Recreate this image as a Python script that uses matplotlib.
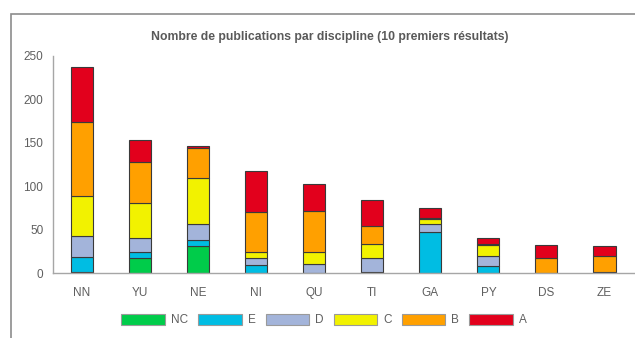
import numpy as np
import matplotlib
matplotlib.use("Agg")
import matplotlib.pyplot as plt
from matplotlib.patches import Rectangle

plt.rcParams['font.family'] = ['Liberation Sans', 'DejaVu Sans']

disciplines = ["NN", "YU", "NE", "NI", "QU", "TI", "GA", "PY", "DS", "ZE"]
ranks = ["NC", "E", "D", "C", "B", "A"]

nc = [1, 18, 31, 0, 0, 2, 0, 0, 0, 2]
e = [18, 6, 7, 9, 0, 0, 47, 8, 0, 0]
d = [24, 17, 19, 9, 11, 16, 10, 12, 0, 0]
c = [46, 40, 53, 7, 14, 16, 5, 13, 0, 0]
b = [85, 47, 34, 46, 47, 20, 2, 1, 18, 18]
a = [63, 25, 2, 47, 31, 30, 11, 7, 15, 11]

colors = ["#00CC4A", "#00BDE3", "#A3B4DA", "#F2F200", "#FFA000", "#E2001C"]

fig = plt.figure(figsize=(6.35, 3.38), dpi=100)
ax = fig.add_axes([53 / 635, 1 - 273.3 / 338, 580.5 / 635, 217.6 / 338])

x = np.arange(len(disciplines))
bottom = np.zeros(len(disciplines))
for name, vals, col in zip(ranks, [nc, e, d, c, b, a], colors):
    ax.bar(x, vals, 0.38, bottom=bottom, color=col, edgecolor="#3a3a3a",
           linewidth=0.8, label=name)
    bottom += np.array(vals)

ax.set_xlim(-0.5, 9.5)
ax.set_ylim(0, 250)
ax.set_yticks([0, 50, 100, 150, 200, 250])
ax.set_xticks(x)
ax.set_xticklabels(disciplines)
ax.tick_params(axis="both", length=0, labelsize=8.5, colors="#5f5f5f")
ax.tick_params(axis="y", pad=7)
ax.tick_params(axis="x", pad=10)
for s in ["top", "right"]:
    ax.spines[s].set_visible(False)
for s in ["left", "bottom"]:
    ax.spines[s].set_color("#a6a6a6")
    ax.spines[s].set_linewidth(1.0)

fig.text(330 / 635, 1 - 37 / 338, "Nombre de publications par discipline (10 premiers résultats)",
         ha="center", va="center", fontsize=8.8, fontweight="bold", color="#595959")

handles, labels = ax.get_legend_handles_labels()
leg = fig.legend(handles, labels, loc="center", bbox_to_anchor=(324 / 635, 1 - 320 / 338),
                 ncol=6, frameon=False, fontsize=8.5, handlelength=3.7, handleheight=1.1,
                 handletextpad=0.5, columnspacing=0.85, labelcolor="#5f5f5f")
for p in leg.get_patches():
    p.set_edgecolor("#9a9a9a")

# outer frame (only left and top edges visible)
fig.add_artist(Rectangle((11 / 635, -0.5), 2, 1.5 - 14 / 338, transform=fig.transFigure,
                         fill=False, edgecolor="#8c8c8c", linewidth=1.2))

fig.savefig("out.png", dpi=100)
